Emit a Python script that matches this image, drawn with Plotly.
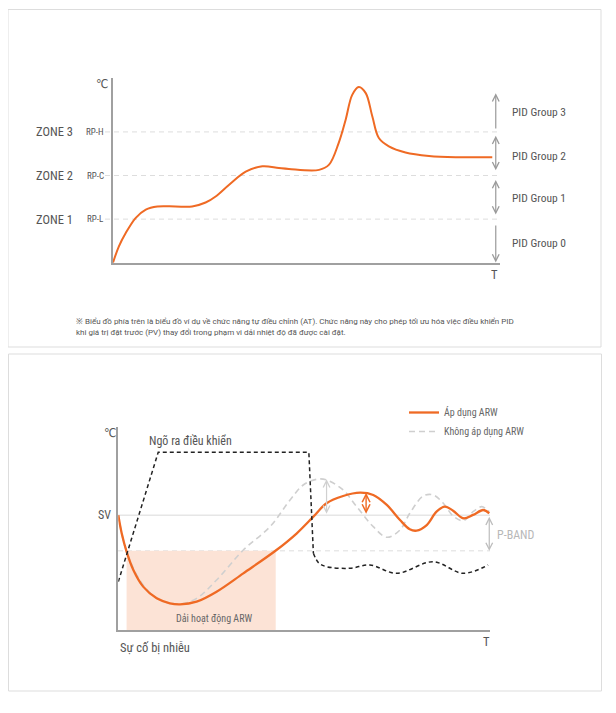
import plotly.graph_objects as go

# page body has an 8px default margin: the figure is sized so it fills the window exactly
OFF = 8
W, H = 616 - 2 * OFF, 713 - 2 * OFF
FONT = "Liberation Sans Narrow, Roboto Condensed, DejaVu Sans Condensed, Roboto, sans-serif"
ORANGE = "#EF6A24"
TXT = "#555555"

# ---------------- data: top chart (auto-tuning PID zones) ----------------
top_time = [0, 1.5, 3.3, 5.9, 8.5, 11.5, 16.2, 20.5, 24.0, 26.6, 30.1, 34.4, 38.7, 43.0,
            45.6, 53.4, 56.0, 58.5, 60.3, 62.0, 63.7, 65.5, 67.2, 68.9, 71.5, 75.8, 81.9, 88.8, 98.3]
top_temp = [0, 37, 68, 103, 122, 129, 129, 129, 138, 152, 179, 209, 221, 217,
            215, 213, 225, 275, 328, 385, 403, 389, 336, 286, 267, 253, 245, 242, 242]
zone_levels = [100, 200, 300]
zone_labels = ["ZONE 1", "ZONE 2", "ZONE 3"]
rp_labels = ["RP-L", "RP-C", "RP-H"]
pid_groups = ["PID Group 0", "PID Group 1", "PID Group 2", "PID Group 3"]

# ---------------- data: bottom chart (anti-reset windup) ----------------
arw_time = [0, 0.9, 2.2, 4.0, 6.6, 10.2, 13.7, 16.4, 20.8, 26.1, 33.2, 42.0, 47.4, 51.8, 55.3,
            59.7, 64.2, 67.7, 71.3, 74.8, 77.4, 79.2, 81.9, 84.5, 86.7, 88.9, 91.6, 94.2, 96.9, 98.5]
arw_temp = [100, 84.3, 68.3, 52.3, 37.8, 27.6, 23.3, 22.4, 24.7, 33.4, 49.4, 69.7, 84.3, 98.8, 110.5,
            116.8, 119.7, 117.7, 109.0, 95.9, 87.8, 86.6, 91.5, 103.1, 107.5, 104.0, 97.4, 100.3, 104.6, 101.7]
noarw_time = [0, 2.2, 6.6, 11.1, 16.4, 20.8, 26.1, 33.2, 40.3, 45.6, 49.1, 52.7, 55.3, 59.7,
              63.3, 67.7, 71.3, 74.8, 77.4, 81.0, 83.6, 86.3, 88.9, 91.6, 94.2, 96.5, 98.5]
noarw_temp = [100, 68.3, 39.2, 26.2, 22.7, 27.6, 43.6, 69.7, 90.1, 113.3, 126.4, 131.4, 130.8, 122.1,
              107.5, 90.1, 80.8, 87.2, 101.7, 116.8, 117.7, 110.5, 99.4, 95.3, 103.1, 107.5, 103.1]
out_ramp_time = [0, 10.6, 50.6, 51.8]
out_ramp_val = [42.1, 154.9, 154.9, 66.9]
out_tail_time = [51.8, 53.2, 55.3, 61.5, 66.8, 73.9, 83.6, 91.6, 98.2]
out_tail_val = [66.9, 58.5, 55.2, 53.8, 56.7, 49.4, 59.5, 49.4, 56.7]
sv_level = 100
pband_low = 69
arw_band = [2.2, 41.8]


def fx(p):
    return (p - OFF) / W


def fy(p):
    return 1 - (p - OFF) / H


fig = go.Figure()

# top chart curve
fig.add_trace(go.Scatter(x=top_time, y=top_temp, mode="lines", line=dict(color=ORANGE, width=2, shape="spline"),
                         showlegend=False, hoverinfo="skip", xaxis="x", yaxis="y"))

# bottom chart
fig.add_trace(go.Scatter(x=noarw_time, y=noarw_temp, mode="lines", name="Không áp dụng ARW",
                         line=dict(color="#CFCFCF", width=1.6, dash="6px,4px", shape="spline"),
                         legendrank=2, hoverinfo="skip", xaxis="x2", yaxis="y2"))
fig.add_trace(go.Scatter(x=arw_time, y=arw_temp, mode="lines", name="Áp dụng ARW",
                         line=dict(color=ORANGE, width=2.3, shape="spline"),
                         legendrank=1, hoverinfo="skip", xaxis="x2", yaxis="y2"))
fig.add_trace(go.Scatter(x=out_ramp_time, y=out_ramp_val, mode="lines",
                         line=dict(color="#222222", width=1.5, dash="4px,3px"),
                         showlegend=False, hoverinfo="skip", xaxis="x2", yaxis="y2"))
fig.add_trace(go.Scatter(x=out_tail_time, y=out_tail_val, mode="lines",
                         line=dict(color="#222222", width=1.5, dash="4px,3px", shape="spline"),
                         showlegend=False, hoverinfo="skip", xaxis="x2", yaxis="y2"))

ax_common = dict(showline=True, linecolor="#A0A0A0", linewidth=2, showgrid=False, zeroline=False,
                 showticklabels=False, ticks="", fixedrange=True)

shapes = []
# panel borders
shapes.append(dict(type="rect", xref="paper", yref="paper", x0=fx(8), x1=fx(601), y0=fy(347), y1=fy(9.5),
                   line=dict(color="#DDDDDD", width=1), layer="below"))
shapes.append(dict(type="rect", xref="paper", yref="paper", x0=fx(8.5), x1=fx(601.5), y0=fy(691), y1=fy(354),
                   line=dict(color="#DDDDDD", width=1), layer="below"))
# zone dashed lines
for lv in zone_levels:
    shapes.append(dict(type="line", xref="paper", yref="y", x0=fx(105), x1=fx(498), y0=lv, y1=lv,
                       line=dict(color="#DDDDDD", width=1, dash="5px,4px"), layer="below"))
# ARW band, SV line, P-band line
shapes.append(dict(type="rect", xref="x2", yref="y2", x0=arw_band[0], x1=arw_band[1], y0=0, y1=pband_low,
                   fillcolor="#FCE3D6", line=dict(width=0), layer="below"))
shapes.append(dict(type="line", xref="paper", yref="y2", x0=fx(118), x1=fx(490), y0=sv_level, y1=sv_level,
                   line=dict(color="#E6E6E6", width=1.5), layer="below"))
shapes.append(dict(type="line", xref="paper", yref="y2", x0=fx(118), x1=fx(490), y0=pband_low, y1=pband_low,
                   line=dict(color="#DDDDDD", width=1, dash="5px,4px"), layer="below"))

ann = []


def label(text, x, y, size=12, color=TXT, xanchor="center", yref="paper", family=FONT):
    ann.append(dict(text=text, x=fx(x), y=(fy(y) if yref == "paper" else y), xref="paper", yref=yref,
                    showarrow=False, xanchor=xanchor, yanchor="middle",
                    font=dict(size=size, color=color, family=family)))


# top chart texts
label("℃", 102, 84, size=12)
for lv, z, rp in zip(zone_levels, zone_labels, rp_labels):
    label(z, 54.5, lv, size=12.5, yref="y")
    label(rp, 95, lv, size=9, yref="y")
for g, yy in zip(pid_groups, [242.7, 198, 156, 111.7]):
    label(g, 510, yy, size=11.5, xanchor="left")
label("T", 494, 274, size=12.5)
label("※ Biểu đồ phía trên là biểu đồ ví dụ về chức năng tự điều chỉnh (AT). Chức năng này cho phép tối ưu hóa việc điều khiển PID",
      73.5, 321, size=8, color="#555555", xanchor="left", family="Roboto, sans-serif")
label("khi giá trị đặt trước (PV) thay đổi trong phạm vi dải nhiệt độ đã được cài đặt.",
      73.5, 332.5, size=8, color="#555555", xanchor="left", family="Roboto, sans-serif")

# top chart PID group arrows (x in top axis units)
arr_x = 99.2


def arrow(x, y_head, y_tail, xr, yr, color, both, width=1.2):
    d = dict(x=x, y=y_head, ax=x, ay=y_tail, xref=xr, yref=yr, axref=xr, ayref=yr, text="",
             showarrow=True, arrowhead=5, arrowsize=1.1, arrowwidth=width, arrowcolor=color)
    if both:
        d.update(arrowside="end+start", startarrowhead=5, startarrowsize=1.1)
    ann.append(d)


arrow(arr_x, 388.5, 304.4, "x", "y", "#9A9A9A", False)
arrow(arr_x, 291.3, 208.7, "x", "y", "#9A9A9A", True)
arrow(arr_x, 189.7, 107.1, "x", "y", "#9A9A9A", True)
arrow(arr_x, 0.5, 88.8, "x", "y", "#9A9A9A", False)

# bottom chart texts
label("℃", 110, 433, size=12)
label("Ngõ ra điều khiển", 146.5, 440.5, size=12, xanchor="left")
ann.append(dict(text="SV", x=fx(113), y=sv_level, xref="paper", yref="y2", showarrow=False, xanchor="right",
                yanchor="middle", font=dict(size=12, color=TXT, family=FONT)))
label("P-BAND", 494.5, 534.5, size=12, color="#B8B8B8", xanchor="left")
label("Dải hoạt động ARW", 214, 619, size=10, color="#666666")
label("Sự cố bị nhiễu", 118, 647, size=12.5, xanchor="left")
label("T", 486, 641, size=12.5)

# bottom chart arrows
arrow(55.3, max(noarw_temp), sv_level, "x2", "y2", "#D0D0D0", True, 1.2)
arrow(65.8, max(arw_temp), sv_level, "x2", "y2", ORANGE, True, 1.4)
arrow(98.5, pband_low, sv_level, "x2", "y2", "#BDBDBD", True, 1.2)

fig.update_layout(
    width=W, height=H, autosize=False,
    margin=dict(l=0, r=0, t=0, b=0),
    paper_bgcolor="white", plot_bgcolor="rgba(0,0,0,0)",
    font=dict(family=FONT, color=TXT),
    xaxis=dict(domain=[fx(113), fx(500)], range=[0, 100.3], anchor="y", **ax_common),
    yaxis=dict(domain=[fy(262.7), fy(78.3)], range=[0, 423], anchor="x", **ax_common),
    xaxis2=dict(domain=[fx(118.3), fx(490)], range=[0, 98.7], anchor="y2", **ax_common),
    yaxis2=dict(domain=[fy(630), fy(426.7)], range=[0, 177.2], anchor="x2", **ax_common),
    shapes=shapes,
    annotations=ann,
    showlegend=True,
    legend=dict(x=fx(404), y=fy(398), xanchor="left", yanchor="top", bgcolor="rgba(0,0,0,0)",
                font=dict(size=10, color="#666666", family=FONT), tracegroupgap=0,
                itemwidth=30),
)

fig.write_html("out.html")
